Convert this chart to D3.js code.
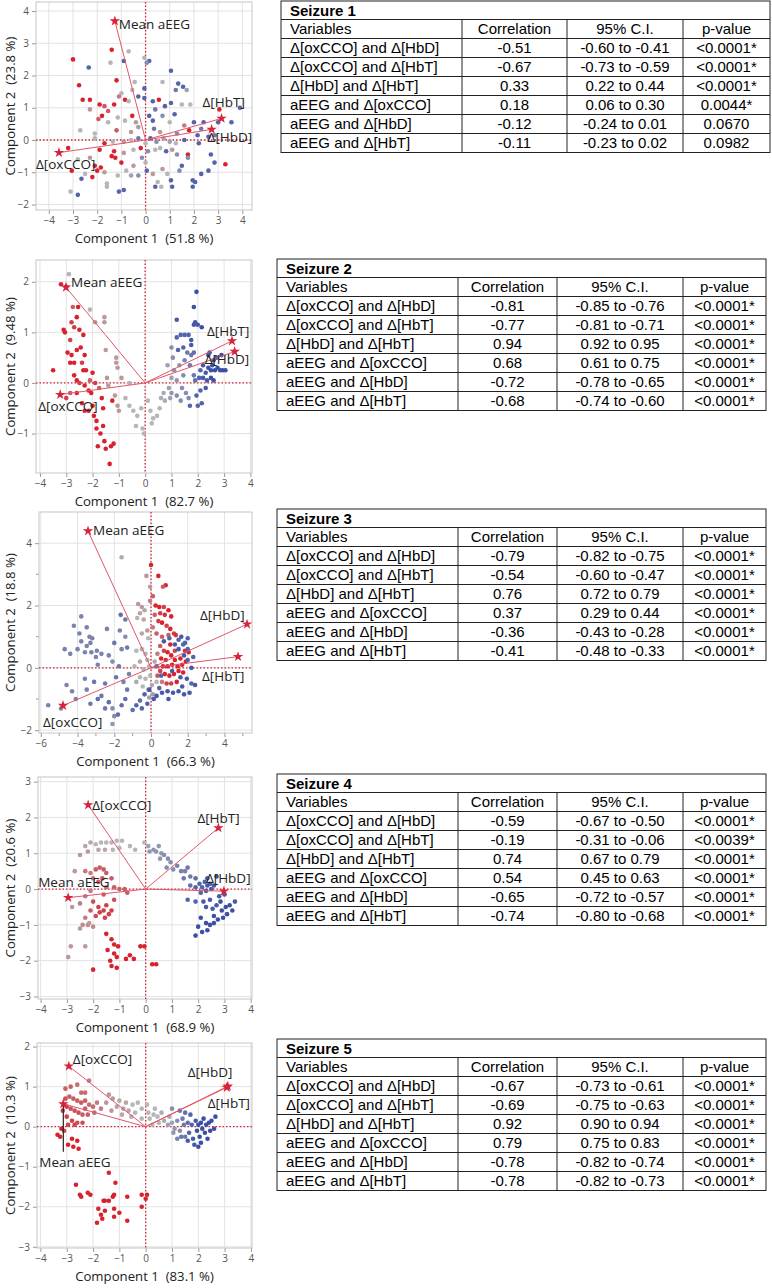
<!doctype html>
<meta charset="utf-8" />
<script src="https://cdn.jsdelivr.net/npm/d3@7"></script>
<style>
    body { margin: 0; background: white; }
    svg { display: block; }
    .tk text { font-family: "Open Sans", sans-serif; font-size: 10px; fill: #555; }
    .tk line { stroke: #999; }
    .tk path { display: none; }
    .axt { font-family: "Open Sans", sans-serif; font-size: 13.2px; fill: #222; white-space: pre; }
    .vl { font-family: "Open Sans", sans-serif; font-size: 13.5px; fill: #222; }
    .tb { font-family: "Liberation Sans", Arial, sans-serif; font-size: 15px; fill: #000; }
</style>
<svg id="fig"></svg>
<script>
    // ---- chart data ----
    var seizures = ['Seizure 1', 'Seizure 2', 'Seizure 3', 'Seizure 4', 'Seizure 5'];
    var xTitles = ['Component 1  (51.8 %)', 'Component 1  (82.7 %)', 'Component 1  (66.3 %)', 'Component 1  (68.9 %)', 'Component 1  (83.1 %)'];
    var yTitles = ['Component 2  (23.8 %)', 'Component 2  (9.48 %)', 'Component 2  (18.8 %)', 'Component 2  (20.6 %)', 'Component 2  (10.3 %)'];

    var loadings1 = [['Mean aEEG', -1.27, 3.69], ['Δ[HbT]', 3.14, 0.67], ['Δ[HbD]', 2.73, 0.33], ['Δ[oxCCO]', -3.58, -0.39]];
    var loadings2 = [['Mean aEEG', -3.01, 1.89], ['Δ[HbT]', 3.30, 0.83], ['Δ[HbD]', 3.40, 0.62], ['Δ[oxCCO]', -3.23, -0.23]];
    var loadings3 = [['Mean aEEG', -3.43, 4.39], ['Δ[HbD]', 5.23, 1.40], ['Δ[HbT]', 4.74, 0.36], ['Δ[oxCCO]', -4.79, -1.21]];
    var loadings4 = [['Δ[oxCCO]', -2.19, 2.35], ['Δ[HbT]', 2.77, 1.71], ['Δ[HbD]', 2.98, -0.06], ['Mean aEEG', -2.95, -0.24]];
    var loadings5 = [['Δ[oxCCO]', -2.92, 1.51], ['Δ[HbD]', 3.12, 1.01], ['Δ[HbT]', 3.08, 0.98], ['Mean aEEG', -3.13, 0.57]];

    // [component 1, component 2, shade 0 = blue .. 0.5 = grey .. 1 = red]
    var scores1 = [
        [-3.0,2.5,1],[-1.4,2.8,1],[-0.7,2.75,0.5],[-0.9,2.45,0.1],[-1.45,2.4,0.5],[-2.35,2.25,0.1],[-0.05,2.55,0.5],[0.15,2.45,0.1],[0.05,2.4,0.3],[-1.2,1.85,1],[1.05,2.15,0.1],[0.7,1.8,0.5],[1.35,1.75,0.1],[1.55,1.65,0.1],[1.25,1.55,0.2],[1.7,1.55,0.4],[-2.75,1.7,1],[-0.45,1.8,0.5],[-0.55,1.55,0.5],[-0.05,1.6,0.1],[-1.0,1.45,0.5],
        [-2.6,1.25,1],[-2.3,1.25,1],[-2.3,0.95,0.6],[-1.9,1.1,1],[-1.7,1.05,0.8],[-1.55,0.9,0.8],[-1.3,1.1,1],[-1.1,1.35,0.7],[-0.85,1.25,1],[-0.7,1.2,0.5],[-0.3,1.35,0.1],[-0.05,1.3,0.1],[0.3,1.2,0.1],[0.55,1.25,1],[0.8,1.05,0.1],[1.05,1.15,0.1],[1.5,1.1,0.5],[1.85,1.1,0.5],[0.4,0.95,0.2],[-1.95,0.65,0.8],[-1.8,0.75,1],[-1.55,0.55,0.5],[-1.15,0.7,0.5],[-0.85,0.6,0.5],[-0.55,0.75,1],[-0.4,0.55,0.6],[0.15,0.75,0.1],[0.3,0.6,0.1],[0.7,0.75,0.3],[1.2,0.8,0.1],[1.0,0.55,0.5],[1.6,0.45,0.7],[2.0,0.55,0.1],[2.4,0.55,0.1],[2.3,0.35,0.2],[3.05,0.95,1],[3.9,1.0,0.1],[3.0,0.55,0.1],[3.55,0.55,0.1],[-2.7,0.3,0.5],[-2.1,0.2,0.5],[-1.2,0.3,0.8],[-0.6,0.25,0.6],[-0.3,0.4,0.4],[0.35,0.35,0.2],[0.6,0.25,0.6],[1.3,0.2,0.3],[1.8,0.3,1],[2.15,0.15,0.1],[2.6,0.1,0.1],[2.85,0.15,0.2],
        [-2.1,0.05,0.5],[-1.7,-0.1,1],[-1.35,-0.05,0.5],[-0.9,-0.05,0.6],[-0.6,0.0,0.5],[-0.3,0.05,0.2],[0.0,-0.1,0.5],[0.2,0.05,0.1],[0.45,-0.05,0.3],[0.75,0.05,0.6],[1.0,-0.05,0.4],[1.25,-0.1,0.5],[1.6,0.0,0.1],[2.2,-0.1,0.1],[-1.9,-0.3,1],[-1.3,-0.35,1],[-1.4,-0.5,1],[-1.25,-0.55,1],[-0.9,-0.4,0.6],[-0.5,-0.3,0.5],[-0.2,-0.25,1],[0.1,-0.35,0.3],[0.4,-0.3,0.5],[0.6,-0.25,0.5],[0.85,-0.35,0.1],[1.1,-0.3,0.6],[1.3,-0.45,0.3],[1.75,-0.45,1],[2.7,-0.45,0.1],[-3.2,-0.25,1],
        [-2.8,-0.6,0.5],[-2.3,-0.55,0.6],[-2.1,-0.8,1],[-2.0,-0.95,1],[-1.85,-0.85,1],[-2.2,-1.15,1],[-2.5,-1.05,0.5],[-3.05,-0.95,1],[-2.65,-1.2,0.1],[-2.8,-1.7,0.1],[-3.1,-1.6,0.5],[-1.7,-1.0,0.6],[-1.6,-1.35,0.5],[-1.6,-1.45,0.5],[-1.15,-1.1,0.5],[-1.0,-0.7,1],[-0.8,-0.95,0.5],[-0.5,-0.8,0.6],[-1.1,-1.6,0.1],[-0.9,-1.55,0.1],[-0.3,-1.1,0.3],[0.05,-0.95,0.1],[0.3,-1.05,0.6],[0.5,-1.3,0.5],[0.4,-1.45,0.1],[0.65,-1.45,0.5],[0.7,-0.9,0.6],[0.9,-1.05,0.5],[1.05,-1.25,0.1],[1.1,-1.45,0.1],[1.4,-0.95,0.3],[1.5,-0.8,0.1],[1.75,-0.55,0.3],[1.95,-1.25,0.1],[1.95,-1.45,0.1],[2.05,-1.3,0.1],[2.3,-1.05,0.1],[2.6,-0.95,0.1],[2.85,-0.7,0.1],[3.3,-0.75,1],[-0.6,-1.1,0.4],[0.0,-0.7,0.5],[-0.15,-0.55,0.3]
    ];
    var scores2 = [
        [-3.5,0.25,1],[-3.2,1.95,1],[-3.0,1.9,1],[-2.9,2.15,0.5],[-3.1,1.05,1],[-3.05,1.0,1],[-2.85,0.85,0.9],[-2.8,1.2,0.9],[-2.6,1.3,1],[-2.75,1.5,0.8],[-2.55,1.5,1],[-2.7,1.1,0.9],[-2.5,1.05,1],[-2.35,0.95,1],[-2.95,0.6,1],[-2.8,0.55,1],[-2.85,0.4,1],[-2.7,0.4,1],[-2.6,0.65,1],[-2.45,0.7,1],[-2.3,0.55,1],[-2.4,0.4,0.9],[-2.25,0.25,1],[-2.35,0.25,1],[-2.7,0.15,1],[-2.6,0.05,1],[-2.5,0.0,0.9],[-2.3,-0.05,1],[-2.1,0.05,0.8],[-2.0,0.2,1],[-2.15,-0.15,1],[-2.05,-0.2,1],[-2.4,-0.4,1],[-2.3,-0.55,1],[-2.15,-0.55,1],[-2.0,-0.45,1],[-1.95,-0.65,1],[-1.85,-0.75,1],[-1.85,-0.9,1],[-1.7,-1.0,1],[-1.6,-0.85,1],[-1.55,-1.15,1],[-1.8,-1.25,1],[-1.5,-1.3,1],[-1.3,-1.25,1],[-1.2,-1.2,1],[-1.35,-1.6,1],[-1.6,-0.5,1],[-1.65,-0.3,1],[-1.25,-0.35,1],[-1.9,0.0,0.9],[-1.75,-0.1,0.8],[-2.6,-0.2,1],[-2.85,-0.2,0.8],[-3.0,-0.3,0.9],
        [-2.1,1.45,0.5],[-1.9,1.2,0.6],[-1.55,1.3,0.6],[-1.55,1.2,0.6],[-1.5,0.65,0.6],[-1.1,0.4,0.6],[-1.05,0.3,0.6],[-1.1,0.5,0.6],[-1.45,0.1,0.6],[-1.4,-0.05,0.6],[-1.15,-0.25,0.6],[-1.05,-0.45,0.6],[-1.0,-0.55,0.6],[-0.75,-0.3,0.5],[-0.6,-0.45,0.5],[-0.45,-0.55,0.5],[-0.3,-0.65,0.5],[-0.35,-0.85,0.5],[-0.1,-0.9,0.5],[-0.05,-1.0,0.5],[-0.15,-0.5,0.5],[0.1,-0.35,0.5],[0.2,-0.55,0.5],[0.3,-0.7,0.5],[0.25,-0.8,0.5],[0.45,-0.65,0.5],[0.55,-0.5,0.5],[0.6,-0.3,0.45],[0.75,-0.35,0.45],[0.7,-0.2,0.45],[0.9,-0.1,0.4],[0.95,-0.3,0.4],[-0.6,0.0,0.5],[-0.9,0.1,0.6],
        [1.0,0.1,0.4],[1.1,0.25,0.35],[1.2,0.05,0.35],[1.3,0.35,0.35],[1.45,0.15,0.3],[1.4,-0.1,0.3],[1.55,-0.2,0.3],[1.65,-0.3,0.3],[1.35,-0.35,0.3],[1.2,-0.25,0.3],[1.5,0.45,0.25],[1.7,0.35,0.2],[1.75,0.55,0.2],[1.85,0.6,0.15],[1.6,0.6,0.2],[1.85,0.15,0.2],[1.9,0.05,0.15],[2.05,0.1,0.1],[2.1,0.25,0.1],[2.2,0.35,0.05],[2.3,0.2,0.05],[2.4,0.3,0.0],[2.5,0.25,0.0],[2.55,0.35,0.0],[2.65,0.25,0.0],[2.75,0.3,0.0],[2.85,0.25,0.0],[2.95,0.25,0.0],[3.05,0.25,0.0],[2.2,0.1,0.05],[2.35,0.05,0.05],[2.5,0.1,0.0],[2.6,0.05,0.0],[2.3,-0.1,0.05],[2.1,-0.15,0.1],[1.95,-0.25,0.1],[2.0,-0.45,0.1],[1.7,-0.45,0.1],[2.15,-0.4,0.1],[1.45,0.7,0.1],[1.25,0.65,0.1],[1.2,0.9,0.1],[1.35,0.95,0.1],[1.65,0.95,0.1],[1.75,0.75,0.05],[1.9,1.2,0.05],[1.85,1.15,0.05],[1.75,0.85,0.05],[2.15,1.1,0.0],[2.0,1.15,0.05],[1.5,0.95,0.1],[1.2,1.25,0.05],[1.85,1.5,0.0],[1.95,1.8,0.0],[2.6,0.45,0.0],[2.7,0.5,0.05],[2.9,0.55,0.0],[2.4,0.55,0.0],[2.45,0.6,0.05],[1.0,0.7,0.3],[1.05,0.5,0.3],[0.85,0.35,0.4],[1.0,-0.2,0.35]
    ];
    var scores3 = [
        [-1.6,3.55,0.55],[0.0,3.3,1],[-0.25,2.95,0.6],[0.4,2.95,1],[0.8,2.65,1],[0.65,2.6,0.8],[-0.05,2.6,0.6],[0.1,2.3,0.8],[-0.05,2.15,0.7],[-0.7,2.05,0.6],[-0.5,1.95,0.6],[-0.35,1.85,0.55],[-0.6,1.75,0.55],[-0.75,1.6,0.5],[-0.4,1.55,0.55],[0.25,2.0,1],[0.45,1.95,1],[0.7,1.95,0.9],[0.95,1.85,1],[0.5,1.75,0.9],[0.75,1.7,0.95],[1.1,1.65,1],[0.2,1.7,0.8],[0.4,1.5,0.9],[0.6,1.45,1],[0.85,1.35,0.9],[1.05,1.25,1],[1.25,1.1,0.9],[1.35,1.05,0.95],[0.95,1.05,0.8],[0.1,1.3,0.7],[-0.2,1.2,0.6],[-0.5,1.1,0.55],[-0.15,0.95,0.5],[0.3,1.1,0.8],[0.6,1.0,0.8],[1.5,0.9,0.1],[1.65,1.0,0.05],[2.0,0.95,0.1],[1.75,0.75,0.1],[2.05,0.5,1],[1.85,0.55,0.95],
        [-3.8,1.65,0.25],[-4.2,1.35,0.25],[-3.5,1.3,0.25],[-3.9,1.1,0.25],[-3.35,1.0,0.25],[-3.2,0.95,0.25],[-3.3,0.8,0.25],[-3.5,0.7,0.25],[-3.8,0.85,0.25],[-4.0,0.6,0.25],[-3.6,0.5,0.25],[-3.25,0.5,0.25],[-2.95,0.55,0.25],[-2.7,0.45,0.25],[-3.0,0.35,0.25],[-4.7,0.6,0.25],[-4.4,0.45,0.25],[-4.6,-0.55,0.25],[-4.3,-0.75,0.25],[-4.1,-1.0,0.25],[-3.6,-0.35,0.25],[-3.5,-0.7,0.25],[-2.9,0.1,0.25],[-2.3,0.4,0.25],[-2.0,0.8,0.2],[-2.4,1.25,0.25],[-1.65,1.7,0.15],[-1.4,1.55,0.2],[-1.7,1.2,0.25],[-1.4,1.0,0.3],[-1.3,0.65,0.2],[-1.6,0.6,0.25],[-2.1,0.2,0.3],[-1.75,0.05,0.2],[-2.5,-0.5,0.2],[-2.7,-0.9,0.2],[-2.9,-1.0,0.15],[-2.3,-1.1,0.15],[-2.5,-1.3,0.2],[-2.1,-1.3,0.3],[-2.0,-1.55,0.3],[-2.1,-1.8,0.35],[-1.8,-1.5,0.15],[-1.6,-1.2,0.15],[-1.4,-1.0,0.15],[-1.3,-0.7,0.2],[-1.5,-0.45,0.25],[-1.9,-0.3,0.2],[-1.2,-0.2,0.25],[-5.6,-1.2,0.25],[-4.9,-1.3,0.3],[-3.1,-0.45,0.2],[-3.3,-1.15,0.2],[-1.0,-1.35,0.15],[-0.8,-1.2,0.1],[-0.6,-1.05,0.15],[-0.5,-1.3,0.1],[-0.35,-0.85,0.1],[-0.2,-1.15,0.1],
        [-0.8,0.55,0.5],[-0.5,0.6,0.5],[-0.3,0.45,0.5],[-0.2,0.25,0.5],[-0.6,0.2,0.55],[-0.9,0.05,0.5],[-0.4,-0.05,0.5],[-0.1,0.05,0.5],[-0.05,-0.25,0.5],[-0.3,-0.35,0.5],[-0.6,-0.3,0.5],[-0.8,-0.45,0.45],[-0.45,-0.6,0.5],[-0.15,-0.7,0.5],[0.05,-0.55,0.45],[0.1,-0.85,0.4],[-0.1,-0.95,0.4],[0.3,-0.45,0.5],[0.2,0.2,0.55],[0.35,0.45,0.7],[0.5,0.7,0.8],[0.7,0.55,0.9],[0.55,0.3,1],[0.8,0.25,1],[0.9,0.5,1],[1.1,0.4,1],[0.65,0.05,1],[0.9,0.05,1],[1.15,0.1,1],[1.3,0.25,1],[1.45,0.05,1],[1.6,0.3,1],[1.7,0.1,1],[1.9,0.2,1],[0.75,-0.2,1],[1.0,-0.25,1],[1.25,-0.2,1],[1.5,-0.1,1],[1.75,-0.15,1],[0.5,-0.1,0.9],[0.35,-0.25,0.8],[0.6,-0.45,0.7],[0.85,-0.5,0.9],[1.1,-0.5,0.9],[1.4,-0.45,1],[1.05,0.75,1],[1.3,0.55,0.9],
        [1.5,0.6,0.05],[1.8,0.4,0.05],[2.0,0.25,0.1],[2.2,0.0,0.05],[1.95,-0.35,0.05],[1.7,-0.6,0.05],[2.2,-0.5,0.1],[2.4,-0.55,0.05],[2.1,-0.8,0.05],[1.8,-0.85,0.05],[1.5,-0.75,0.05],[1.2,-0.8,0.05],[0.9,-0.75,0.05],[0.6,-0.8,0.05],[0.3,-0.9,0.05],[0.45,-0.65,0.1],[0.15,-1.0,0.05],[-0.1,-0.7,0.05],[1.3,0.75,0.05],[1.0,0.95,0.1],[0.7,0.85,0.05],[1.15,-0.1,0.05],[1.6,-0.3,0.05],[0.3,0.05,0.1],[0.55,-0.25,0.1],[2.0,0.6,0.1],[2.3,0.35,0.1],[1.85,0.8,0.1],[0.95,-1.0,0.05]
    ];
    var scores4 = [
        [-2.3,1.2,0.55],[-2.1,1.3,0.55],[-1.9,1.25,0.5],[-1.7,1.3,0.5],[-1.5,1.3,0.5],[-1.3,1.3,0.5],[-1.1,1.35,0.5],[-0.9,1.35,0.5],[-0.6,1.2,0.5],[-0.4,1.1,0.5],[-1.8,1.1,0.55],[-1.55,1.1,0.55],[-1.25,1.1,0.5],[-2.2,1.05,0.6],[-1.0,1.15,0.5],[-0.05,1.3,0.5],[0.1,1.2,0.4],[0.3,1.1,0.35],[0.15,1.05,0.35],[0.4,1.05,0.35],[0.5,1.2,0.35],[0.6,1.0,0.35],[0.7,0.95,0.3],[0.55,0.85,0.35],[0.85,0.85,0.3],[0.95,0.75,0.3],[0.8,0.6,0.3],[1.05,0.55,0.3],[1.2,0.65,0.25],[1.35,0.5,0.25],[1.5,0.5,0.25],[1.6,0.6,0.2],[1.45,0.3,0.2],[1.7,0.35,0.2],[1.9,0.3,0.15],[1.7,0.1,0.15],[1.9,0.05,0.1],[2.05,0.15,0.1],[2.15,0.05,0.1],[2.25,0.2,0.1],[2.35,0.1,0.05],[2.45,0.15,0.05],[2.5,0.0,0.05],[2.3,-0.05,0.05],[2.1,-0.1,0.1],[2.6,0.1,0.05],[2.7,0.35,0.0],[2.35,0.3,0.05],[1.6,-0.3,0.1],[1.9,-0.35,0.1],[2.2,-0.35,0.05],[2.45,-0.3,0.05],[2.3,-0.5,0.05],[2.55,-0.55,0.05],[2.7,-0.45,0.05],[2.85,-0.35,0.0],[2.9,-0.6,0.0],[3.05,-0.5,0.0],[3.2,-0.45,0.0],[3.1,-0.7,0.0],[2.95,-0.8,0.0],[2.75,-0.85,0.0],[2.6,-0.95,0.0],[2.45,-1.0,0.0],[2.3,-0.95,0.0],[2.35,-1.15,0.0],[2.0,-1.05,0.0],[2.1,-0.8,0.0],[1.9,-1.3,0.0],[2.15,-1.2,0.0],[2.6,-0.75,0.0],[3.3,-0.6,0.0],[3.4,-0.35,0.05],[3.0,-0.15,0.05],[2.8,-0.2,0.05],
        [-2.5,0.95,0.6],[-2.7,0.5,0.6],[-2.3,0.5,0.7],[-2.1,0.45,0.7],[-1.9,0.55,0.8],[-1.75,0.6,0.8],[-1.6,0.55,0.8],[-1.5,0.45,0.8],[-2.0,0.3,0.75],[-1.8,0.2,0.8],[-1.65,0.3,0.8],[-1.3,0.3,0.8],[-1.2,0.05,0.8],[-1.0,0.0,0.8],[-0.8,0.0,0.8],[-0.7,-0.1,0.8],[-1.5,0.05,0.75],[-1.6,-0.15,0.8],[-2.1,-0.05,0.7],[-2.3,-0.2,0.7],[-2.5,-0.4,0.7],[-2.0,-0.35,0.85],[-1.8,-0.5,0.9],[-1.6,-0.6,0.9],[-1.5,-0.45,0.9],[-1.4,-0.7,0.9],[-1.3,-0.6,0.9],[-1.55,-0.8,0.9],[-1.75,-0.65,0.9],[-1.9,-0.75,0.85],[-2.1,-0.6,0.8],[-2.3,-0.8,0.7],[-2.2,-1.0,0.65],[-2.4,-1.0,0.65],[-2.0,-1.05,0.65],[-2.5,-1.1,0.6],[-2.15,-0.95,0.6],[-2.8,-0.5,0.6],[-2.85,-1.6,0.6],[-2.3,-1.6,0.6],[-2.95,-1.9,0.6],[-1.2,-0.3,0.85],
        [-1.5,-1.25,1],[-1.3,-1.4,1],[-1.2,-1.55,1],[-1.05,-1.6,1],[-1.45,-1.7,1],[-1.2,-1.8,1],[-1.1,-1.9,1],[-1.35,-2.0,1],[-1.3,-2.15,1],[-1.1,-2.2,1],[-2.0,-2.25,1],[-0.6,-1.85,1],[-0.45,-1.95,1],[-0.2,-1.6,1],[-0.05,-1.6,1],[0.25,-2.1,1],[0.4,-2.1,1],[-0.75,-1.95,1]
    ];
    var scores5 = [
        [-3.35,-0.2,1],[-3.25,-0.25,1],[-3.1,-0.1,0.9],[-2.95,0.05,0.9],[-3.0,0.25,0.9],[-2.8,0.15,0.9],[-2.7,0.05,0.9],[-2.6,0.1,0.85],[-3.15,0.4,0.9],[-3.0,0.5,0.9],[-2.85,0.45,0.85],[-2.7,0.4,0.85],[-2.55,0.35,0.85],[-2.4,0.3,0.8],[-2.3,0.45,0.8],[-2.2,0.3,0.8],[-3.05,0.7,0.85],[-2.9,0.75,0.8],[-2.75,0.7,0.8],[-2.6,0.65,0.8],[-2.45,0.6,0.8],[-2.3,0.65,0.8],[-2.15,0.55,0.75],[-2.0,0.5,0.75],[-3.05,0.95,0.8],[-2.85,1.0,0.8],[-2.6,1.05,0.75],[-2.45,0.85,0.75],[-2.3,0.85,0.75],[-2.15,1.15,0.7],[-1.85,0.6,0.7],[-1.7,0.45,0.7],[-2.8,-0.3,1],[-2.6,-0.35,1],[-2.95,-0.45,1],[-2.75,-0.5,1],[-2.55,-0.55,1],[-3.2,-0.05,1],[-2.4,0.1,0.85],[-1.95,0.35,0.75],
        [-1.4,0.8,0.6],[-1.5,0.6,0.6],[-1.25,0.7,0.6],[-1.1,0.5,0.55],[-1.0,0.65,0.55],[-0.85,0.45,0.55],[-0.75,0.6,0.55],[-0.65,0.4,0.55],[-0.5,0.55,0.5],[-0.4,0.35,0.5],[-0.3,0.6,0.5],[-0.15,0.45,0.5],[-1.3,0.4,0.6],[-0.9,0.3,0.55],[-0.55,0.25,0.5],[0.1,0.35,0.5],[0.15,0.2,0.5],[0.3,0.3,0.5],[0.45,0.25,0.5],[0.6,0.35,0.45],[0.7,0.15,0.45],[0.5,0.1,0.5],[0.25,0.05,0.5],[0.9,0.25,0.45],[0.85,0.05,0.4],[1.0,0.1,0.4],[0.05,0.55,0.5],[-0.15,0.2,0.5],[0.35,0.45,0.5],
        [1.1,-0.05,0.35],[1.2,0.15,0.3],[1.3,-0.1,0.3],[1.4,0.2,0.2],[1.5,-0.25,0.2],[1.45,0.05,0.2],[1.6,0.1,0.15],[1.65,-0.15,0.1],[1.75,0.05,0.1],[1.8,-0.3,0.05],[1.9,0.15,0.05],[1.95,-0.1,0.0],[2.0,0.05,0.0],[2.05,-0.25,0.0],[2.1,0.1,0.0],[2.15,-0.05,0.0],[2.2,0.2,0.0],[2.25,-0.15,0.0],[2.3,0.05,0.0],[2.35,-0.3,0.0],[2.4,0.1,0.0],[2.45,-0.1,0.0],[2.5,0.15,0.0],[2.6,-0.05,0.0],[2.65,0.25,0.0],[1.6,-0.35,0.05],[1.85,-0.45,0.05],[2.1,-0.4,0.0],[1.35,-0.25,0.2],[1.2,-0.3,0.25],[1.05,-0.15,0.35],[1.5,0.35,0.15],[1.7,0.3,0.1],[1.0,0.45,0.3],[2.0,-0.5,0.0],[1.3,0.4,0.2],
        [-1.4,-1.15,1],[-1.15,-1.4,1],[-2.65,-1.45,1],[-2.2,-1.65,1],[-2.1,-1.7,1],[-2.5,-1.7,1],[-2.45,-1.75,1],[-1.6,-1.85,1],[-1.55,-1.85,1],[-1.25,-1.75,1],[-1.2,-1.7,1],[-0.7,-1.75,1],[-0.15,-1.7,1],[0.05,-1.7,1],[0.0,-1.8,1],[-1.8,-2.05,1],[-1.55,-2.1,1],[-1.2,-2.05,1],[-1.7,-2.2,1],[-1.0,-2.15,1],[-1.2,-2.25,1],[-1.85,-2.4,1],[-1.65,-2.3,1],[-0.7,-2.35,1],[-0.15,-2.0,1],[-1.4,-1.85,1]
    ];

    var tableHeader = ['Variables', 'Correlation', '95% C.I.', 'p-value'];
    var pairs = ['Δ[oxCCO] and Δ[HbD]', 'Δ[oxCCO] and Δ[HbT]', 'Δ[HbD] and Δ[HbT]', 'aEEG and Δ[oxCCO]', 'aEEG and Δ[HbD]', 'aEEG and Δ[HbT]'];
    var corr1 = ['-0.51', '-0.67', '0.33', '0.18', '-0.12', '-0.11'];
    var ci1 = ['-0.60 to -0.41', '-0.73 to -0.59', '0.22 to 0.44', '0.06 to 0.30', '-0.24 to 0.01', '-0.23 to 0.02'];
    var p1 = ['<0.0001*', '<0.0001*', '<0.0001*', '0.0044*', '0.0670', '0.0982'];
    var corr2 = ['-0.81', '-0.77', '0.94', '0.68', '-0.72', '-0.68'];
    var ci2 = ['-0.85 to -0.76', '-0.81 to -0.71', '0.92 to 0.95', '0.61 to 0.75', '-0.78 to -0.65', '-0.74 to -0.60'];
    var p2 = ['<0.0001*', '<0.0001*', '<0.0001*', '<0.0001*', '<0.0001*', '<0.0001*'];
    var corr3 = ['-0.79', '-0.54', '0.76', '0.37', '-0.36', '-0.41'];
    var ci3 = ['-0.82 to -0.75', '-0.60 to -0.47', '0.72 to 0.79', '0.29 to 0.44', '-0.43 to -0.28', '-0.48 to -0.33'];
    var p3 = ['<0.0001*', '<0.0001*', '<0.0001*', '<0.0001*', '<0.0001*', '<0.0001*'];
    var corr4 = ['-0.59', '-0.19', '0.74', '0.54', '-0.65', '-0.74'];
    var ci4 = ['-0.67 to -0.50', '-0.31 to -0.06', '0.67 to 0.79', '0.45 to 0.63', '-0.72 to -0.57', '-0.80 to -0.68'];
    var p4 = ['<0.0001*', '<0.0039*', '<0.0001*', '<0.0001*', '<0.0001*', '<0.0001*'];
    var corr5 = ['-0.67', '-0.69', '0.92', '0.79', '-0.78', '-0.78'];
    var ci5 = ['-0.73 to -0.61', '-0.75 to -0.63', '0.90 to 0.94', '0.75 to 0.83', '-0.82 to -0.74', '-0.82 to -0.73'];
    var p5 = ['<0.0001*', '<0.0001*', '<0.0001*', '<0.0001*', '<0.0001*', '<0.0001*'];

    // ---- layout ----
    var W = 772, H = 1288;
    var panels = [
        { scores: scores1, loadings: loadings1, left: 36, right: 252, top: 2, bottom: 210, xd: [-4.53, 4.40], yd: [-2.17, 4.28], xt: d3.range(-4, 5), yt: d3.range(-2, 5), xm: [], ym: [],
          lab: [[4, 3, 'start'], [-19, -16, 'start'], [-4, 8, 'start'], [-23, 12, 'start']] },
        { scores: scores2, loadings: loadings2, left: 36, right: 252, top: 260, bottom: 473, xd: [-4.15, 4.06], yd: [-1.78, 2.43], xt: d3.range(-4, 5), yt: d3.range(-1, 3), xm: [], ym: [],
          lab: [[5, -5, 'start'], [-25, -10, 'start'], [-30, 8, 'start'], [-22, 12, 'start']] },
        { scores: scores3, loadings: loadings3, left: 39, right: 252, top: 512, bottom: 733, xd: [-6.1, 5.5], yd: [-2.09, 5.0], xt: d3.range(-6, 5, 2), yt: d3.range(-2, 5, 2), xm: d3.range(-5, 6, 2), ym: d3.range(-1, 5, 2),
          lab: [[5, -1, 'start'], [-47, -9, 'start'], [-36, 20, 'start'], [-20, 17, 'start']] },
        { scores: scores4, loadings: loadings4, left: 38, right: 252, top: 777, bottom: 999, xd: [-4.1, 4.05], yd: [-3.07, 3.13], xt: d3.range(-4, 5), yt: d3.range(-3, 4), xm: [], ym: [],
          lab: [[4, 0, 'start'], [-21, -10, 'start'], [-18, -13, 'start'], [-30, -15, 'start']] },
        { scores: scores5, loadings: loadings5, left: 37, right: 252, top: 1043, bottom: 1248, xd: [-4.13, 4.04], yd: [-3.03, 2.09], xt: d3.range(-4, 5), yt: d3.range(-3, 3), xm: [], ym: [],
          lab: [[4, -7, 'start'], [-40, -14, 'start'], [-19, 16, 'start'], [-24, 58, 'start']], leader: [3, 48] }
    ];
    var tables = [
        { x: 281, y: 1, w: 489, cols: [181, 105, 116], corr: corr1, ci: ci1, p: p1 },
        { x: 277, y: 259, w: 489, cols: [181, 99, 126], corr: corr2, ci: ci2, p: p2 },
        { x: 277, y: 509, w: 489, cols: [181, 99, 126], corr: corr3, ci: ci3, p: p3 },
        { x: 277, y: 774, w: 489, cols: [181, 99, 126], corr: corr4, ci: ci4, p: p4 },
        { x: 277, y: 1039, w: 489, cols: [181, 99, 126], corr: corr5, ci: ci5, p: p5 }
    ];

    var shade = d3.scaleLinear().domain([0, 0.5, 1]).range(['#3c4fa6', '#b6b6b6', '#d8222e']);
    var vecColor = '#e2566a', refColor = '#d42436';

    var svg = d3.select('svg#fig').attr('width', W).attr('height', H);

    panels.forEach(function (p, i) {
        var x = d3.scaleLinear().domain(p.xd).range([p.left, p.right]);
        var y = d3.scaleLinear().domain(p.yd).range([p.bottom, p.top]);
        var g = svg.append('g');

        g.append('clipPath').attr('id', 'clip' + i)
            .append('rect').attr('x', p.left).attr('y', p.top)
            .attr('width', p.right - p.left).attr('height', p.bottom - p.top);

        // grid
        g.selectAll('.gx').data(p.xt).join('line')
            .attr('x1', d => x(d)).attr('x2', d => x(d))
            .attr('y1', p.top).attr('y2', p.bottom)
            .attr('stroke', '#e3e3e3');
        g.selectAll('.gy').data(p.yt).join('line')
            .attr('y1', d => y(d)).attr('y2', d => y(d))
            .attr('x1', p.left).attr('x2', p.right)
            .attr('stroke', '#e3e3e3');

        // axes
        g.append('g').attr('class', 'tk').attr('transform', 'translate(0,' + p.bottom + ')')
            .call(d3.axisBottom(x).tickValues(p.xt).tickSize(4).tickPadding(3).tickFormat(d3.format('d')));
        g.append('g').attr('class', 'tk').attr('transform', 'translate(' + p.left + ',0)')
            .call(d3.axisLeft(y).tickValues(p.yt).tickSize(4).tickPadding(3).tickFormat(d3.format('d')));
        g.selectAll('.mx').data(p.xm).join('line')
            .attr('x1', d => x(d)).attr('x2', d => x(d))
            .attr('y1', p.bottom).attr('y2', p.bottom + 3).attr('stroke', '#999');
        g.selectAll('.my').data(p.ym).join('line')
            .attr('y1', d => y(d)).attr('y2', d => y(d))
            .attr('x1', p.left).attr('x2', p.left - 3).attr('stroke', '#999');

        g.append('rect').attr('x', p.left).attr('y', p.top)
            .attr('width', p.right - p.left).attr('height', p.bottom - p.top)
            .attr('fill', 'none').attr('stroke', '#c6c6c6');

        // titles
        g.append('text').attr('class', 'axt')
            .attr('x', (p.left + p.right) / 2).attr('y', p.bottom + 33)
            .attr('text-anchor', 'middle').text(xTitles[i]);
        g.append('text').attr('class', 'axt')
            .attr('transform', 'translate(15,' + (p.top + p.bottom) / 2 + ') rotate(-90)')
            .attr('text-anchor', 'middle').text(yTitles[i]);

        var inner = g.append('g').attr('clip-path', 'url(#clip' + i + ')');

        // reference lines
        inner.append('line').attr('x1', x(0)).attr('x2', x(0)).attr('y1', p.top).attr('y2', p.bottom)
            .attr('stroke', refColor).attr('stroke-width', 1.3).attr('stroke-dasharray', '1.5,2');
        inner.append('line').attr('y1', y(0)).attr('y2', y(0)).attr('x1', p.left).attr('x2', p.right)
            .attr('stroke', refColor).attr('stroke-width', 1.3).attr('stroke-dasharray', '1.5,2');

        // scores
        inner.selectAll('circle').data(p.scores).join('circle')
            .attr('cx', d => x(d[0])).attr('cy', d => y(d[1]))
            .attr('r', 2.3).attr('fill', d => shade(d[2]));

        // loading vectors
        inner.selectAll('.vec').data(p.loadings).join('line')
            .attr('x1', x(0)).attr('y1', y(0))
            .attr('x2', d => x(d[1])).attr('y2', d => y(d[2]))
            .attr('stroke', vecColor).attr('stroke-width', 1);
        if (p.leader) {
            var ld = p.loadings[p.leader[0]];
            inner.append('line').attr('x1', x(ld[1])).attr('x2', x(ld[1]))
                .attr('y1', y(ld[2])).attr('y2', y(ld[2]) + p.leader[1])
                .attr('stroke', '#222').attr('stroke-width', 1.2);
        }
        inner.selectAll('.star').data(p.loadings).join('path')
            .attr('d', d3.symbol(d3.symbolStar, 34))
            .attr('transform', d => 'translate(' + x(d[1]) + ',' + y(d[2]) + ')')
            .attr('fill', '#d8213a');
        g.selectAll('.vl').data(p.loadings).join('text').attr('class', 'vl')
            .attr('x', (d, j) => x(d[1]) + p.lab[j][0])
            .attr('y', (d, j) => y(d[2]) + p.lab[j][1])
            .attr('dy', '0.35em').attr('text-anchor', (d, j) => p.lab[j][2])
            .text(d => d[0]);
    });

    // tables
    var titleH = 18.5, rowH = 19;
    tables.forEach(function (t, i) {
        var g = svg.append('g');
        var rows = [tableHeader].concat(pairs.map((v, k) => [v, t.corr[k], t.ci[k], t.p[k]]));
        var edges = [t.x];
        t.cols.forEach(c => edges.push(edges[edges.length - 1] + c));
        edges.push(t.x + t.w);
        var bottom = t.y + titleH + rows.length * rowH;

        g.append('rect').attr('x', t.x).attr('y', t.y).attr('width', t.w).attr('height', bottom - t.y)
            .attr('fill', 'none').attr('stroke', '#222').attr('stroke-width', 1);
        g.selectAll('.hl').data(d3.range(rows.length)).join('line')
            .attr('x1', t.x).attr('x2', t.x + t.w)
            .attr('y1', d => t.y + titleH + d * rowH).attr('y2', d => t.y + titleH + d * rowH)
            .attr('stroke', '#222');
        g.selectAll('.vl2').data(edges.slice(1, -1)).join('line')
            .attr('x1', d => d).attr('x2', d => d)
            .attr('y1', t.y + titleH).attr('y2', bottom)
            .attr('stroke', '#222');

        g.append('text').attr('class', 'tb').attr('font-weight', 'bold')
            .attr('x', t.x + 9).attr('y', t.y + titleH / 2).attr('dy', '0.36em')
            .text(seizures[i]);

        rows.forEach(function (r, k) {
            var cy = t.y + titleH + k * rowH + rowH / 2;
            g.selectAll('.c' + k).data(r).join('text').attr('class', 'tb')
                .attr('x', (d, j) => j === 0 ? t.x + 9 : (edges[j] + edges[j + 1]) / 2)
                .attr('y', cy).attr('dy', '0.36em')
                .attr('text-anchor', (d, j) => j === 0 ? 'start' : 'middle')
                .text(d => d);
        });
    });
</script>
